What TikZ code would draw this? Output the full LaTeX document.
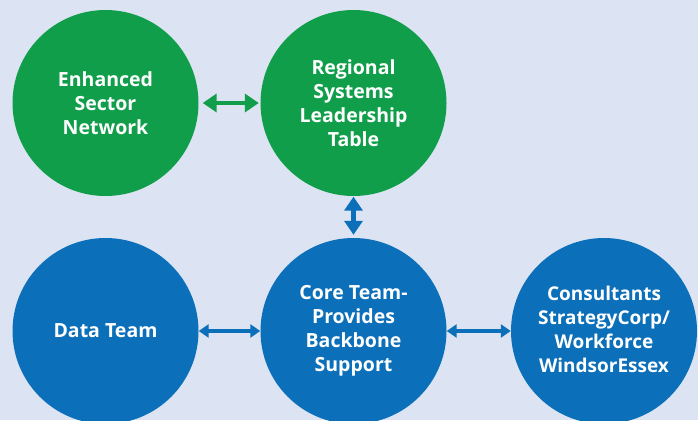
\documentclass[tikz,border=0pt]{standalone}
\usepackage{fontspec}
\setmainfont{Open Sans}
\usetikzlibrary{arrows.meta}
\definecolor{bgc}{RGB}{220,228,243}
\definecolor{gc}{RGB}{16,158,74}
\definecolor{bc}{RGB}{12,111,185}
\tikzset{
  circ/.style={circle, minimum size=186pt, inner sep=0pt, text=white, align=center,
    font=\fontsize{19.5}{24}\selectfont\bfseries},
  gcirc/.style={circ, fill=gc},
  bcirc/.style={circ, fill=bc},
  bigarrow/.style={line width=4.5pt, {Triangle[width=18pt,length=14pt]}-{Triangle[width=18pt,length=14pt]}},
  smallarrow/.style={line width=4pt, {Triangle[width=13pt,length=10pt]}-{Triangle[width=13pt,length=10pt]}}
}
\begin{document}
\begin{tikzpicture}[x=1pt,y=-1pt]
\fill[bgc] (0,0) rectangle (698,420);
\useasboundingbox (0,0) rectangle (698,420);
\clip (0,0) rectangle (698,420);
\node[gcirc] (esn) at (105.5,103) {Enhanced\\Sector\\Network};
\node[gcirc] (rslt) at (353.5,103) {Regional\\Systems\\Leadership\\Table};
\node[bcirc] (data) at (105.5,331) {Data Team};
\node[bcirc] (core) at (353.5,331) {Core Team-\\Provides\\Backbone\\Support};
\node[bcirc] (cons) at (604,331) {};
\node[text=white, align=center, font=\fontsize{19}{24}\selectfont\bfseries] (constext) at (604,329) {Consultants\\StrategyCorp/\\Workforce\\WindsorEssex};
\draw[gc, bigarrow, shorten <=4pt, shorten >=1.5pt] (esn.east) -- (rslt.west);
\draw[bc, bigarrow, shorten <=0.5pt, shorten >=3pt] (rslt.south) -- (core.north);
\draw[bc, smallarrow, shorten <=0pt, shorten >=0pt] (data.east) -- (core.west);
\draw[bc, smallarrow, shorten <=0pt, shorten >=0pt] (core.east) -- (cons.west);
\end{tikzpicture}
\end{document}
